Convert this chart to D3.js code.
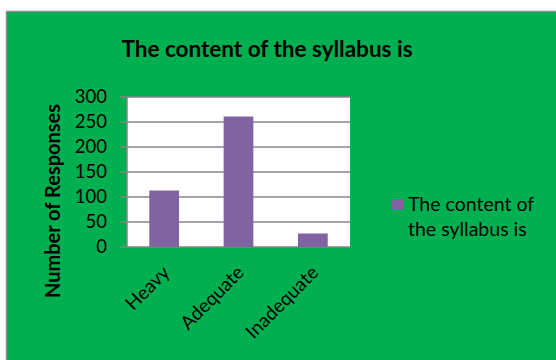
<!DOCTYPE html>
<html><head><meta charset="utf-8">
<script src="https://cdn.jsdelivr.net/npm/d3@7"></script>
<style>body{margin:0;background:#fff;}svg{display:block;}</style>
</head><body>
<svg id="c" width="556" height="360"></svg>
<script>
const categories = ["Heavy", "Adequate", "Inadequate"];
const values = [113, 261, 27];
const yTicks = [0, 50, 100, 150, 200, 250, 300];
const seriesName = "The content of the syllabus is";
const titleText = "The content of the syllabus is";
const yTitle = "Number of Responses";

const svg = d3.select("#c");
const font = "Lato, 'Open Sans', sans-serif";
svg.append("rect").attr("x", 6.5).attr("y", 11.5).attr("width", 560).attr("height", 360)
  .attr("fill", "#00B050").attr("stroke", "#8c8c8c").attr("stroke-width", 1.5);

const L = 127, R = 350, T = 97, B = 247;
const x = d3.scaleBand().domain(categories).range([L, R]).paddingInner(0.6).paddingOuter(0.3);
const y = d3.scaleLinear().domain([0, 300]).range([B, T]);

svg.append("rect").attr("x", L).attr("y", T).attr("width", R - L).attr("height", B - T).attr("fill", "#fff");

svg.append("g").selectAll("line").data(yTicks).join("line")
  .attr("x1", L - 7).attr("x2", R).attr("y1", d => y(d)).attr("y2", d => y(d))
  .attr("stroke", "#868686").attr("stroke-width", 1.5);
svg.append("line").attr("x1", L).attr("x2", L).attr("y1", T).attr("y2", B)
  .attr("stroke", "#868686").attr("stroke-width", 1.5);

svg.append("g").selectAll("rect").data(values).join("rect")
  .attr("x", (d, i) => x(categories[i])).attr("width", x.bandwidth())
  .attr("y", d => y(d)).attr("height", d => B - y(d)).attr("fill", "#8064A2");

svg.append("g").selectAll("text").data(yTicks).join("text")
  .attr("x", L - 20).attr("y", d => y(d)).attr("dy", "0.35em").attr("text-anchor", "end")
  .attr("font-family", font).attr("font-size", 18.5).attr("fill", "#000").text(d => d);

const xc = d => x(d) + x.bandwidth() / 2;
svg.append("g").selectAll("text").data(categories).join("text")
  .attr("transform", d => `translate(${xc(d) + 2},${B + 22}) rotate(-45)`)
  .attr("text-anchor", "end").attr("dy", "0.35em")
  .attr("font-family", font).attr("font-size", 19).attr("fill", "#000").text(d => d);

svg.append("text").attr("x", 267).attr("y", 57).attr("text-anchor", "middle")
  .attr("font-family", font).attr("font-weight", "bold").attr("font-size", 22.5).attr("fill", "#000").text(titleText);

svg.append("text").attr("transform", "translate(60,201) rotate(-90)").attr("text-anchor", "middle")
  .attr("font-family", font).attr("font-weight", "bold").attr("font-size", 20).attr("fill", "#000").text(yTitle);

const lg = svg.append("g");
lg.append("rect").attr("x", 392).attr("y", 199).attr("width", 11).attr("height", 11).attr("fill", "#8064A2");
const words = ["The content of", "the syllabus is"];
lg.selectAll("text").data(words).join("text")
  .attr("x", 408).attr("y", (d, i) => 211 + i * 25)
  .attr("font-family", font).attr("font-size", 19.5).attr("fill", "#000").text(d => d);
</script>
</body></html>
